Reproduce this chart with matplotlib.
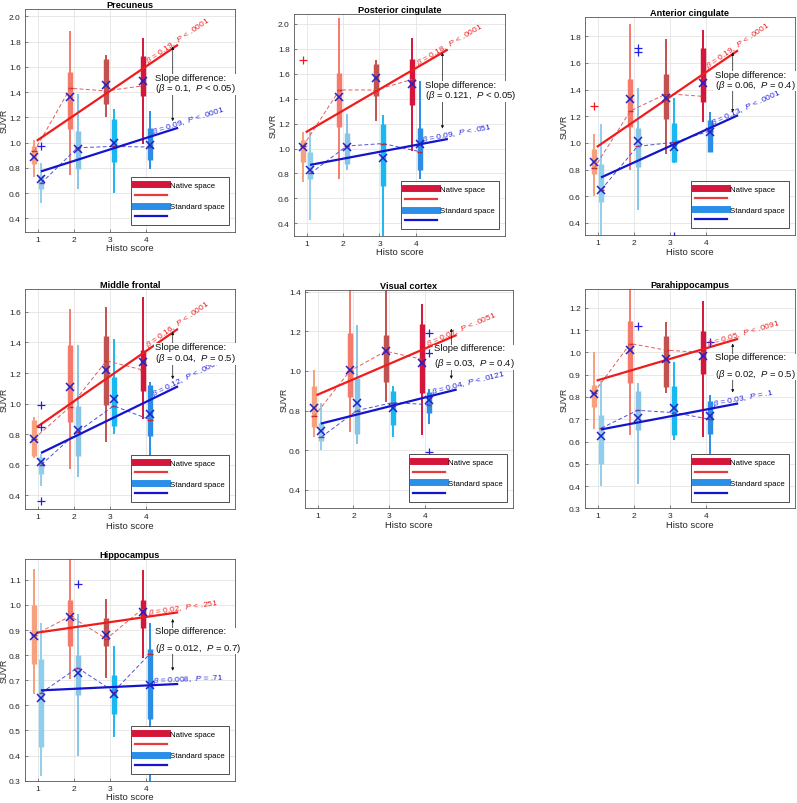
import numpy as np
import matplotlib
matplotlib.use("Agg")
import matplotlib.pyplot as plt
from matplotlib.lines import Line2D
from matplotlib.ticker import FormatStrFormatter
from matplotlib.transforms import offset_copy

plt.rcParams['font.family'] = ['Liberation Sans', 'DejaVu Sans']
plt.rcParams['mathtext.fontset'] = 'custom'
plt.rcParams['mathtext.rm'] = 'Liberation Sans'
plt.rcParams['mathtext.it'] = 'Liberation Sans:italic'
plt.rcParams['mathtext.bf'] = 'Liberation Sans:bold'

# ------------------------------------------------------------------ data
histo_scores = [1, 2, 3, 4]
xtick_labels = ['1', '2', '3', '4']
panel_titles = ['Precuneus', 'Posterior cingulate', 'Anterior cingulate',
                'Middle frontal', 'Visual cortex', 'Parahippocampus', 'Hippocampus']

# Precuneus
prec_nat_low = [0.725, 0.745, 1.20, 0.99]
prec_nat_q1 = [0.83, 1.105, 1.305, 1.37]
prec_nat_med = [0.93, 1.43, 1.41, 1.45]
prec_nat_q3 = [0.975, 1.56, 1.665, 1.685]
prec_nat_high = [1.02, 1.885, 1.69, 1.83]
prec_nat_mean = [0.89, 1.365, 1.46, 1.49]
prec_std_low = [0.52, 0.63, 0.60, 0.79]
prec_std_q1 = [0.635, 0.79, 0.85, 0.865]
prec_std_med = [0.68, 0.96, 0.97, 0.965]
prec_std_q3 = [0.745, 1.09, 1.19, 1.115]
prec_std_high = [0.84, 1.385, 1.265, 1.25]
prec_std_mean = [0.71, 0.95, 1.00, 0.98]
prec_nat_out = []
prec_std_out = [(1, 0.97)]
prec_nat_fit = [1.02, 1.77]
prec_std_fit = [0.775, 1.115]
prec_arrow = [1.76, 1.17]
prec_diff_y = 1.47
prec_texts = ['$\\beta$ = 0.19,  $\\it{P}$ < .0001', '$\\beta$ = 0.09,  $\\it{P}$ < .0001',
              'Slope difference:\n($\\beta$ = 0.1,  $\\it{P}$ < 0.05)']

# Posterior cingulate
pcc_nat_low = [0.735, 0.755, 1.22, 0.98]
pcc_nat_q1 = [0.89, 1.17, 1.42, 1.35]
pcc_nat_med = [1.02, 1.47, 1.47, 1.555]
pcc_nat_q3 = [1.07, 1.61, 1.68, 1.72]
pcc_nat_high = [1.13, 2.05, 1.71, 1.89]
pcc_nat_mean = [1.015, 1.415, 1.565, 1.52]
pcc_std_low = [0.43, 0.83, 0.28, 0.755]
pcc_std_q1 = [0.755, 0.875, 0.70, 0.83]
pcc_std_med = [0.80, 1.02, 1.04, 0.975]
pcc_std_q3 = [0.975, 1.125, 1.195, 1.165]
pcc_std_high = [1.13, 1.28, 1.27, 1.54]
pcc_std_mean = [0.83, 1.015, 0.925, 1.04]
pcc_nat_out = [(1, 1.71)]
pcc_std_out = []
pcc_nat_fit = [1.135, 1.79]
pcc_std_fit = [0.87, 1.075]
pcc_arrow = [1.77, 1.16]
pcc_diff_y = 1.465
pcc_texts = ['$\\beta$ = 0.18,  $\\it{P}$ < .0001', '$\\beta$ = 0.09,  $\\it{P}$ < .051',
             'Slope difference:\n($\\beta$ = 0.121,  $\\it{P}$ < 0.05)']

# Anterior cingulate
acc_nat_low = [0.60, 0.80, 0.92, 1.16]
acc_nat_q1 = [0.77, 1.12, 1.18, 1.31]
acc_nat_med = [0.81, 1.24, 1.37, 1.35]
acc_nat_q3 = [0.955, 1.48, 1.52, 1.71]
acc_nat_high = [1.07, 1.89, 1.78, 1.85]
acc_nat_mean = [0.86, 1.33, 1.335, 1.45]
acc_std_low = [0.28, 0.50, 0.85, 0.93]
acc_std_q1 = [0.56, 0.82, 0.855, 0.935]
acc_std_med = [0.65, 0.975, 1.005, 1.09]
acc_std_q3 = [0.84, 1.11, 1.15, 1.175]
acc_std_high = [1.14, 1.41, 1.34, 1.23]
acc_std_mean = [0.65, 1.015, 0.97, 1.08]
acc_nat_out = [(1, 1.28)]
acc_std_out = [(2, 1.71), (2, 1.68), (3, 0.30)]
acc_nat_fit = [0.975, 1.69]
acc_std_fit = [0.745, 1.205]
acc_arrow = [1.68, 1.23]
acc_diff_y = 1.47
acc_texts = ['$\\beta$ = 0.19,  $\\it{P}$ < .0001', '$\\beta$ = 0.13,  $\\it{P}$ < .0001',
             'Slope difference:\n($\\beta$ = 0.06,  $\\it{P}$ = 0.4)']

# Middle frontal
mfr_nat_low = [0.645, 0.575, 0.75, 0.90]
mfr_nat_q1 = [0.655, 0.88, 0.99, 1.08]
mfr_nat_med = [0.77, 0.98, 1.28, 1.22]
mfr_nat_q3 = [0.89, 1.385, 1.44, 1.35]
mfr_nat_high = [0.91, 1.62, 1.63, 1.70]
mfr_nat_mean = [0.77, 1.11, 1.22, 1.27]
mfr_std_low = [0.46, 0.52, 0.80, 0.60]
mfr_std_q1 = [0.54, 0.655, 0.855, 0.79]
mfr_std_med = [0.60, 0.815, 0.985, 0.895]
mfr_std_q3 = [0.65, 0.985, 1.175, 1.12]
mfr_std_high = [0.67, 1.385, 1.42, 1.14]
mfr_std_mean = [0.615, 0.83, 1.03, 0.93]
mfr_nat_out = []
mfr_std_out = [(1, 0.99), (1, 0.85), (1, 0.365)]
mfr_nat_fit = [0.85, 1.485]
mfr_std_fit = [0.68, 1.11]
mfr_arrow = [1.47, 1.16]
mfr_diff_y = 1.33
mfr_texts = ['$\\beta$ = 0.16,  $\\it{P}$ < .0001', '$\\beta$ = 0.12,  $\\it{P}$ < .0001',
             'Slope difference:\n($\\beta$ = 0.04,  $\\it{P}$ = 0.5)']

# Visual cortex
vis_nat_low = [0.665, 0.69, 0.845, 0.675]
vis_nat_q1 = [0.715, 0.87, 0.945, 0.89]
vis_nat_med = [0.77, 1.00, 1.10, 1.06]
vis_nat_q3 = [0.925, 1.19, 1.18, 1.24]
vis_nat_high = [1.005, 1.45, 1.45, 1.34]
vis_nat_mean = [0.815, 1.003, 1.10, 1.04]
vis_std_low = [0.60, 0.63, 0.665, 0.73]
vis_std_q1 = [0.645, 0.68, 0.725, 0.785]
vis_std_med = [0.665, 0.80, 0.84, 0.83]
vis_std_q3 = [0.735, 0.965, 0.90, 0.895]
vis_std_high = [0.84, 1.235, 0.925, 0.91]
vis_std_mean = [0.695, 0.84, 0.815, 0.855]
vis_nat_out = []
vis_std_out = [(4, 1.19), (4, 1.09), (4, 0.59)]
vis_nat_fit = [0.88, 1.18]
vis_std_fit = [0.735, 0.905]
vis_arrow = [1.215, 0.96]
vis_diff_y = 1.075
vis_texts = ['$\\beta$ = 0.07,  $\\it{P}$ < .0051', '$\\beta$ = 0.04,  $\\it{P}$ < .0121',
             'Slope difference:\n($\\beta$ = 0.03,  $\\it{P}$ = 0.4)']

# Parahippocampus
phc_nat_low = [0.655, 0.63, 0.82, 0.62]
phc_nat_q1 = [0.755, 0.865, 0.845, 0.905]
phc_nat_med = [0.82, 1.04, 1.01, 1.00]
phc_nat_q3 = [0.855, 1.14, 1.075, 1.095]
phc_nat_high = [1.00, 1.32, 1.135, 1.23]
phc_nat_mean = [0.815, 1.01, 0.97, 0.985]
phc_std_low = [0.40, 0.41, 0.605, 0.545]
phc_std_q1 = [0.50, 0.65, 0.63, 0.635]
phc_std_med = [0.66, 0.74, 0.73, 0.70]
phc_std_q3 = [0.72, 0.825, 0.85, 0.78]
phc_std_high = [0.87, 0.865, 0.955, 0.81]
phc_std_mean = [0.625, 0.705, 0.75, 0.715]
phc_nat_out = []
phc_std_out = [(2, 1.12), (4, 1.045)]
phc_nat_fit = [0.875, 1.06]
phc_std_fit = [0.655, 0.77]
phc_arrow = [1.04, 0.82]
phc_diff_y = 0.94
phc_texts = ['$\\beta$ = 0.05,  $\\it{P}$ < .0091', '$\\beta$ = 0.03,  $\\it{P}$ = .1',
             'Slope difference:\n($\\beta$ = 0.02,  $\\it{P}$ = 0.5)']

# Hippocampus
hip_nat_low = [0.645, 0.705, 0.71, 0.79]
hip_nat_q1 = [0.765, 0.835, 0.835, 0.91]
hip_nat_med = [0.88, 0.955, 0.865, 0.985]
hip_nat_q3 = [1.00, 1.02, 0.95, 1.02]
hip_nat_high = [1.145, 1.20, 1.025, 1.14]
hip_nat_mean = [0.875, 0.952, 0.88, 0.97]
hip_std_low = [0.32, 0.40, 0.475, 0.28]
hip_std_q1 = [0.435, 0.64, 0.565, 0.545]
hip_std_med = [0.65, 0.75, 0.655, 0.805]
hip_std_q3 = [0.785, 0.80, 0.72, 0.825]
hip_std_high = [0.93, 0.965, 0.835, 0.93]
hip_std_mean = [0.63, 0.73, 0.645, 0.68]
hip_nat_out = []
hip_std_out = [(2, 1.085)]
hip_nat_fit = [0.89, 0.97]
hip_std_fit = [0.66, 0.685]
hip_arrow = [0.944, 0.738]
hip_diff_y = 0.86
hip_texts = ['$\\beta$ = 0.02,  $\\it{P}$ < .251', '$\\beta$ = 0.008,  $\\it{P}$ = .71',
             'Slope difference:\n($\\beta$ = 0.012,  $\\it{P}$ = 0.7)']

nat_fit_x = [1.0, 4.85]
std_fit_x = [1.12, 4.85]

panels = [
    (prec_nat_low, prec_nat_q1, prec_nat_med, prec_nat_q3, prec_nat_high, prec_nat_mean,
     prec_std_low, prec_std_q1, prec_std_med, prec_std_q3, prec_std_high, prec_std_mean,
     prec_nat_out, prec_std_out, prec_nat_fit, prec_std_fit, prec_arrow, prec_diff_y, prec_texts),
    (pcc_nat_low, pcc_nat_q1, pcc_nat_med, pcc_nat_q3, pcc_nat_high, pcc_nat_mean,
     pcc_std_low, pcc_std_q1, pcc_std_med, pcc_std_q3, pcc_std_high, pcc_std_mean,
     pcc_nat_out, pcc_std_out, pcc_nat_fit, pcc_std_fit, pcc_arrow, pcc_diff_y, pcc_texts),
    (acc_nat_low, acc_nat_q1, acc_nat_med, acc_nat_q3, acc_nat_high, acc_nat_mean,
     acc_std_low, acc_std_q1, acc_std_med, acc_std_q3, acc_std_high, acc_std_mean,
     acc_nat_out, acc_std_out, acc_nat_fit, acc_std_fit, acc_arrow, acc_diff_y, acc_texts),
    (mfr_nat_low, mfr_nat_q1, mfr_nat_med, mfr_nat_q3, mfr_nat_high, mfr_nat_mean,
     mfr_std_low, mfr_std_q1, mfr_std_med, mfr_std_q3, mfr_std_high, mfr_std_mean,
     mfr_nat_out, mfr_std_out, mfr_nat_fit, mfr_std_fit, mfr_arrow, mfr_diff_y, mfr_texts),
    (vis_nat_low, vis_nat_q1, vis_nat_med, vis_nat_q3, vis_nat_high, vis_nat_mean,
     vis_std_low, vis_std_q1, vis_std_med, vis_std_q3, vis_std_high, vis_std_mean,
     vis_nat_out, vis_std_out, vis_nat_fit, vis_std_fit, vis_arrow, vis_diff_y, vis_texts),
    (phc_nat_low, phc_nat_q1, phc_nat_med, phc_nat_q3, phc_nat_high, phc_nat_mean,
     phc_std_low, phc_std_q1, phc_std_med, phc_std_q3, phc_std_high, phc_std_mean,
     phc_nat_out, phc_std_out, phc_nat_fit, phc_std_fit, phc_arrow, phc_diff_y, phc_texts),
    (hip_nat_low, hip_nat_q1, hip_nat_med, hip_nat_q3, hip_nat_high, hip_nat_mean,
     hip_std_low, hip_std_q1, hip_std_med, hip_std_q3, hip_std_high, hip_std_mean,
     hip_nat_out, hip_std_out, hip_nat_fit, hip_std_fit, hip_arrow, hip_diff_y, hip_texts),
]

# ------------------------------------------------------------------ layout / style
W, H = 797, 804
axes_px = [(25, 10, 235, 232.7), (294, 15, 505, 236.7), (585, 18, 795, 236),
           (25, 290, 235, 510), (305, 291, 513, 509.3), (585, 290, 795, 509.3),
           (25, 560, 235, 781.7)]
ylims = [(0.295, 2.058), (0.3, 2.08), (0.31, 1.945), (0.31, 1.75), (0.305, 1.41),
         (0.3, 1.285), (0.3, 1.183)]
yticks = [np.arange(0.4, 2.01, 0.2), np.arange(0.4, 2.01, 0.2), np.arange(0.4, 1.81, 0.2),
          np.arange(0.4, 1.61, 0.2), np.arange(0.4, 1.41, 0.2), np.arange(0.3, 1.21, 0.1),
          np.arange(0.3, 1.11, 0.1)]
diff_linespacing = [0.95, 0.95, 0.9, 1.07, 1.45, 1.6, 1.6]

nat_cols = ['#f6a07e', '#f47b6b', '#c2524f', '#d4163c']
std_cols = ['#8fcfee', '#86c5e8', '#1ab8f0', '#2b8de6']
med_col = '#c0282d'
mean_col = '#2222c8'
red_fit = '#ee1c1c'
blue_fit = '#1414cc'
red_dash = '#e85a5a'
blue_dash = '#5050d8'
off = 0.1
half_w = 0.075
text_red_x = 4.05
text_blue_x = 4.18
arrow_x = 4.73
diff_x = 4.24

fig = plt.figure(figsize=(W / 100, H / 100), dpi=100)


def slope_text(ax, fx, fy, x0, s, color):
    k = (fy[1] - fy[0]) / (fx[1] - fx[0])
    y0 = fy[0] + k * (x0 - fx[0])
    ang = np.degrees(np.arctan2(fy[1] - fy[0], fx[1] - fx[0]))
    tr = offset_copy(ax.transData, fig=fig, x=0, y=2.0, units='points')
    ax.text(x0, y0, s, transform=tr, rotation=ang, transform_rotates_text=True,
            rotation_mode='anchor', ha='left', va='baseline', color=color,
            fontsize=6.0, zorder=6)


for idx, (title, p, box) in enumerate(zip(panel_titles, panels, axes_px)):
    (nlo, nq1, nmed, nq3, nhi, nmean, slo, sq1, smed, sq3, shi, smean,
     nout, sout, nfit, sfit, arrow, diff_y, texts) = p
    l, t, r, b = box
    ax = fig.add_axes([l / W, 1 - b / H, (r - l) / W, (b - t) / H])
    ax.set_xlim(0.65, 6.45)
    ax.set_ylim(*ylims[idx])
    ax.set_xticks(histo_scores)
    ax.set_xticklabels(xtick_labels)
    ax.set_yticks(yticks[idx])
    ax.yaxis.set_major_formatter(FormatStrFormatter('%.1f'))
    ax.grid(True, color='#e4e4e4', lw=0.6)
    ax.set_axisbelow(True)
    for sp in ax.spines.values():
        sp.set_color('#555555')
        sp.set_linewidth(0.6)
    ax.tick_params(direction='in', length=2.5, width=0.5, labelsize=6.0, pad=3,
                   colors='#555555', labelcolor='#262626')

    xn = [s - off for s in histo_scores]
    xs = [s + off for s in histo_scores]
    for i in range(4):
        ax.vlines(xn[i], nlo[i], nhi[i], colors=nat_cols[i], lw=1.4, zorder=2)
        ax.vlines(xn[i], nq1[i], nq3[i], colors=nat_cols[i], lw=3.9, zorder=2)
        ax.hlines(nmed[i], xn[i] - half_w, xn[i] + half_w, colors=med_col, lw=1.0, zorder=3)
        ax.vlines(xs[i], slo[i], shi[i], colors=std_cols[i], lw=1.4, zorder=2)
        ax.vlines(xs[i], sq1[i], sq3[i], colors=std_cols[i], lw=3.9, zorder=2)
        ax.hlines(smed[i], xs[i] - half_w, xs[i] + half_w, colors=med_col, lw=1.0, zorder=3)

    ax.plot(xn, nmed, ls=(0, (4, 2.5)), color=red_dash, lw=0.7, zorder=3)
    ax.plot(xs, smed, ls=(0, (4, 2.5)), color=blue_dash, lw=0.7, zorder=3)
    ax.plot(xn, nmean, 'x', color=mean_col, ms=5.5, mew=1.1, zorder=5)
    ax.plot(xs, smean, 'x', color=mean_col, ms=5.5, mew=1.1, zorder=5)
    for (k, v) in nout:
        ax.plot(k - off, v, '+', color=red_fit, ms=6, mew=0.9, zorder=5)
    for (k, v) in sout:
        ax.plot(k + off, v, '+', color='#2020e0', ms=6, mew=0.9, zorder=5)

    ax.plot(nat_fit_x, nfit, color=red_fit, lw=1.6, zorder=4)
    ax.plot(std_fit_x, sfit, color=blue_fit, lw=1.6, zorder=4)

    slope_text(ax, nat_fit_x, nfit, text_red_x, texts[0], red_fit)
    slope_text(ax, std_fit_x, sfit, text_blue_x, texts[1], '#2020dd')

    ax.annotate('', xy=(arrow_x, arrow[1]), xytext=(arrow_x, arrow[0]),
                arrowprops=dict(arrowstyle='<|-|>', lw=0.5, color='#111111',
                                mutation_scale=4, shrinkA=0, shrinkB=0), zorder=6)
    ax.text(diff_x, diff_y, texts[2], fontsize=6.8, ha='left', va='center',
            linespacing=diff_linespacing[idx], color='#111111', zorder=7,
            bbox=dict(fc='white', ec='none', pad=0.4))

    handles = [Line2D([0], [0], color='#d4163c', lw=5),
               Line2D([0], [0], color='#e83a3a', lw=1.6),
               Line2D([0], [0], color='#2b8fe8', lw=5),
               Line2D([0], [0], color='#1515d0', lw=1.6)]
    leg = ax.legend(handles, ['Native space', '', 'Standard space', ''],
                    loc='lower right', bbox_to_anchor=(0.992, 0.012), fontsize=5.6,
                    handlelength=4.0, labelspacing=0.4, borderpad=0.55,
                    handletextpad=0.5, frameon=True, fancybox=False,
                    edgecolor='#333333', framealpha=1)
    leg.get_frame().set_linewidth(0.6)
    leg.set_zorder(10)

    ax.set_title(title, fontsize=6.6, fontweight='bold', pad=1.0)
    ax.set_xlabel('Histo score', fontsize=6.8, labelpad=0.3, color='#262626')
    ax.set_ylabel('SUVR', fontsize=6.3, color='#262626')
    ax.yaxis.set_label_coords(-0.078, 0.5)

fig.savefig('out.png', dpi=100)
